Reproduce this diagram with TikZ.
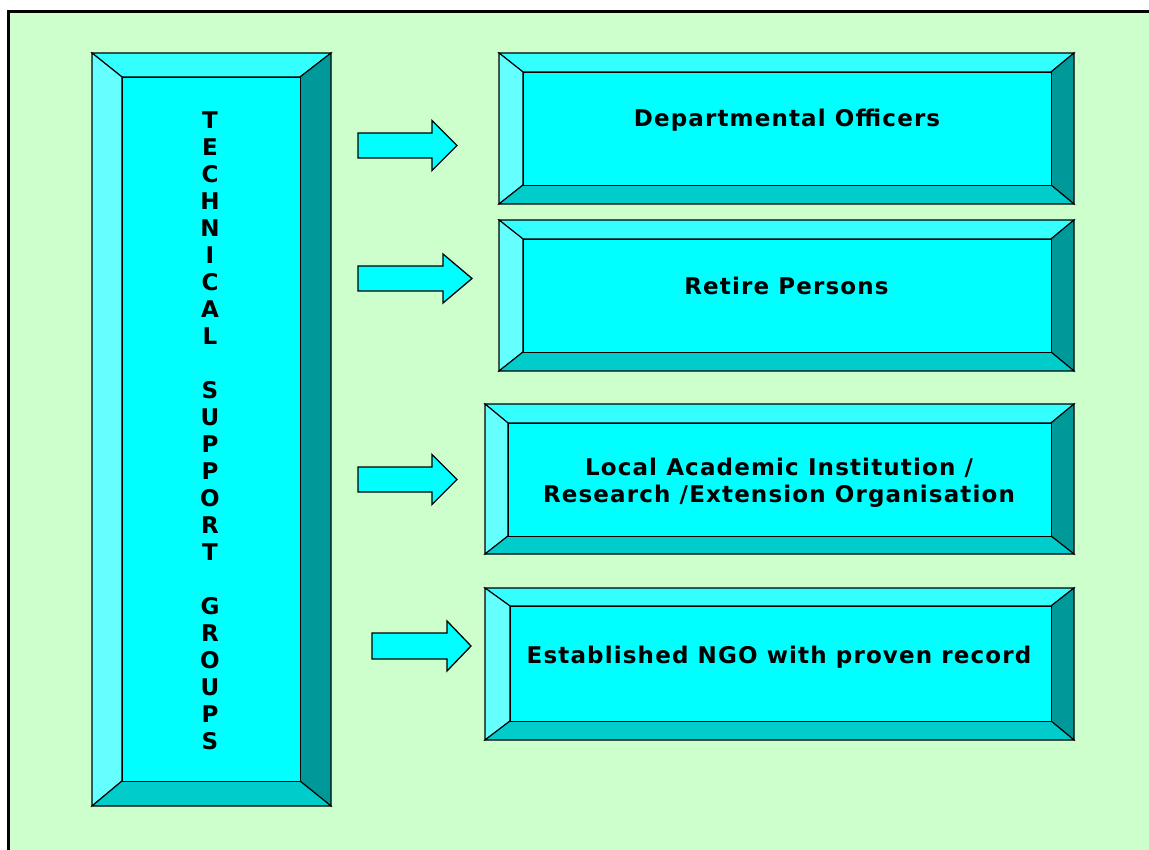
\documentclass[tikz,border=0pt]{standalone}
\usepackage{fontspec}
\setmainfont{DejaVu Sans}
\newfontfamily\lblfont[LetterSpace=5]{DejaVu Sans Bold}
\newfontfamily\vertfont{DejaVu Sans Bold}
\definecolor{bggreen}{HTML}{CCFFCC}
\definecolor{bvtop}{HTML}{33FFFF}
\definecolor{bvleft}{HTML}{66FFFF}
\definecolor{bvright}{HTML}{009999}
\definecolor{bvbottom}{HTML}{00CCCC}
\definecolor{bvface}{HTML}{00FFFF}
\tikzset{
  bevline/.style={draw=black, line width=1.1pt, line join=miter},
  facebox/.style={bevline, fill=bvface},
  blockarrow/.style={draw=black, line width=1.3pt, fill=bvface, line join=miter},
  lbl/.style={font=\lblfont\fontsize{23}{27}\selectfont, text=black, align=center, inner sep=0pt},
  vlbl/.style={font=\vertfont\fontsize{23}{27}\selectfont, text=black, align=center, inner sep=0pt}
}
% outer x1 y1 x2 y2, inner a1 b1 a2 b2, name
\newcommand\bevbox[9]{%
  \filldraw[bevline, fill=bvtop] (#1,#2) -- (#3,#2) -- (#7,#6) -- (#5,#6) -- cycle;
  \filldraw[bevline, fill=bvleft] (#1,#2) -- (#5,#6) -- (#5,#8) -- (#1,#4) -- cycle;
  \filldraw[bevline, fill=bvright] (#3,#2) -- (#3,#4) -- (#7,#8) -- (#7,#6) -- cycle;
  \filldraw[bevline, fill=bvbottom] (#1,#4) -- (#5,#8) -- (#7,#8) -- (#3,#4) -- cycle;
  \node[facebox, minimum width={#7-#5}, minimum height={#8-#6}, inner sep=0pt, anchor=north west] (#9) at (#5,#6) {};
}
% x0 yc xbase xtip halfbody halfhead
\newcommand\barrow[6]{%
  \filldraw[blockarrow] (#1,#2-#5) -- (#3,#2-#5) -- (#3,#2-#6) -- (#4,#2) -- (#3,#2+#6) -- (#3,#2+#5) -- (#1,#2+#5) -- cycle;
}
\begin{document}
\begin{tikzpicture}[x=1pt,y=-1pt]
\useasboundingbox (0,0) rectangle (1149,850);
\fill[white] (0,0) rectangle (1149,850);
\fill[bggreen] (8.5,11.5) rectangle (1149,850);
\draw[black, line width=3.5pt] (8.5,850) -- (8.5,11.5) -- (1149,11.5);

\bevbox{92}{53}{331}{806}{122}{77}{300}{781}{tsg}
\bevbox{499}{53}{1074}{204}{523}{72}{1051}{185}{b1}
\bevbox{499}{220}{1074}{371}{523}{239}{1051}{352}{b2}
\bevbox{485}{404}{1074}{554}{508}{423}{1051}{536}{b3}
\bevbox{485}{588}{1074}{740}{510}{606}{1051}{721}{b4}

\barrow{358}{145.5}{432}{457}{12.5}{25}
\barrow{358}{278.5}{443}{472}{12.5}{24.5}
\barrow{358}{479.5}{432}{457}{12.5}{25}
\barrow{372}{646}{447}{471}{13}{25}

\node[vlbl, anchor=north] (tsgtext) at (210,112) {T\\E\\C\\H\\N\\I\\C\\A\\L\\\mbox{}\\S\\U\\P\\P\\O\\R\\T\\\mbox{}\\G\\R\\O\\U\\P\\S};

\node[lbl] (t1) at (787,120) {Departmental Officers};
\node[lbl] (t2) at (786.5,286) {Retire Persons};
\node[lbl] (t3) at (779,483) {Local Academic Institution /\\Research /Extension Organisation};
\node[lbl] (t4) at (779,657) {Established NGO with proven record};
\end{tikzpicture}
\end{document}
